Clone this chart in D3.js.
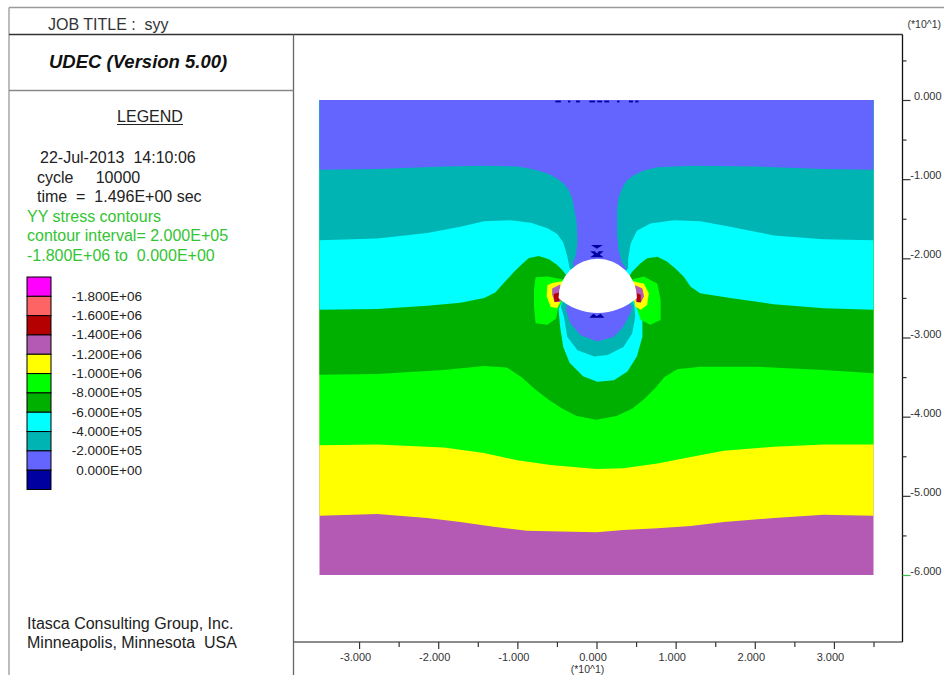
<!DOCTYPE html>
<html>
<head>
<meta charset="utf-8">
<script src="https://d3js.org/d3.v7.min.js"></script>
<style>
  html, body { margin: 0; padding: 0; background: #fff; }
  svg { display: block; font-family: "Liberation Sans", Arial, sans-serif; }
  .pre { white-space: pre; }
</style>
</head>
<body>
<svg id="plot" width="944" height="675"></svg>
<script>
// ---------------- data ----------------
// model extent, metres
const modelX = [-35, 35];
const modelY = [0, -60];

// contour levels (Pa) and legend labels
const contourLevels = [-1.8e6, -1.6e6, -1.4e6, -1.2e6, -1.0e6, -8e5, -6e5, -4e5, -2e5, 0];
const levelLabels = ["-1.800E+06", "-1.600E+06", "-1.400E+06", "-1.200E+06", "-1.000E+06",
                     "-8.000E+05", "-6.000E+05", "-4.000E+05", "-2.000E+05", "0.000E+00"];
// one colour per band: below the first level ... above the last level
const bandColors = ["#ff00ff", "#ff6464", "#b40000", "#b45ab4", "#ffff00", "#00ff00",
                    "#00b000", "#00ffff", "#00b4b4", "#6464ff", "#0000a0"];

// axis ticks (model units, labelled in units of 10 m)
const xTickValues = [-30, -20, -10, 0, 10, 20, 30];
const xTickLabels = ["-3.000", "-2.000", "-1.000", "0.000", "1.000", "2.000", "3.000"];
const xMinorTicks = [-25, -15, -5, 5, 15, 25, 35];
const yTickValues = [0, -10, -20, -30, -40, -50, -60];
const yTickLabels = ["0.000", "-1.000", "-2.000", "-3.000", "-4.000", "-5.000", "-6.000"];
const yMinorTicks = [5, -5, -15, -25, -35, -45, -55];

// excavation: semicircular crown over a shallow curved invert
const tunnelCentre = [0.15, -25.0];
const tunnelRadius = 4.95;
const tunnelInvert = -26.9;

// syy contour lines [x, y] (m); "Lobe" parts wrap under the invert
const contourM12 = [[-35,-52.5],[-27.7,-52.3],[-21.4,-52.8],[-17.2,-53.3],[-13.0,-53.9],[-8.8,-54.4],[-4.5,-54.5],[0,-54.6],[3.4,-54.3],[7.7,-54.1],[11.9,-53.8],[16.1,-53.3],[22.4,-52.8],[28.7,-52.4],[35,-52.5]];
const contourM10 = [[-35,-43.6],[-27.7,-43.5],[-19.3,-43.9],[-14.2,-44.6],[-10.0,-45.5],[-5.8,-46.1],[0,-46.6],[3.4,-46.5],[7.7,-45.9],[11.9,-45.1],[16.1,-44.3],[22.4,-43.8],[28.7,-43.5],[35,-43.5]];
const contourM08 = [[-35,-34.7],[-27.7,-34.6],[-19.3,-34.1],[-14.2,-33.6],[-11.3,-33.8],[-9.5,-35.0],[-7.8,-36.5],[-6.0,-37.9],[-4.3,-39.0],[-2.5,-39.9],[0,-40.4],[2.5,-39.9],[4.5,-39.0],[6.0,-37.8],[7.4,-36.4],[8.6,-35.0],[10.2,-34.0],[13.1,-33.7],[20.3,-33.7],[28.7,-34.1],[35,-34.5]];

const contourM06Left  = [[-35,-26.5],[-27.7,-26.4],[-21.4,-26.0],[-17.2,-25.6],[-14.2,-25.0],[-12.8,-24.3],[-11.6,-23.0],[-10.5,-21.8],[-9.6,-20.9],[-8.6,-20.0],[-7.3,-19.7],[-6.0,-20.1],[-5.0,-20.8],[-4.3,-21.5],[-3.7,-22.3]];
const contourM06Lobe  = [[-4.3,-25.2],[-4.8,-26.4],[-4.6,-28.6],[-4.2,-31.2],[-3.4,-33.2],[-1.7,-34.9],[0.1,-35.6],[2.2,-35.4],[3.9,-34.3],[5.1,-32.4],[5.8,-29.9],[5.8,-27.4],[5.1,-26.3],[4.6,-25.2]];
const contourM06Right = [[4.1,-22.3],[4.5,-21.7],[5.6,-20.6],[6.4,-20.0],[7.7,-19.8],[8.9,-20.4],[10.0,-21.3],[11.0,-22.3],[11.9,-23.6],[13.1,-24.4],[16.9,-25.0],[22.4,-25.8],[28.7,-26.3],[35,-26.5]];

const contourM04Left  = [[-35,-17.7],[-27.7,-17.5],[-21.4,-16.8],[-17.2,-16.0],[-14.2,-15.3],[-10.9,-15.2],[-8.3,-15.5],[-6.2,-16.2],[-5.0,-16.9],[-4.2,-18.0],[-3.7,-19.7],[-3.4,-21.2],[-3.0,-22.0]];
const contourM04Lobe  = [[-4.2,-25.2],[-4.5,-26.1],[-4.1,-27.4],[-3.7,-29.9],[-2.4,-31.6],[-0.3,-32.4],[1.4,-32.2],[3.4,-31.2],[4.5,-29.5],[4.9,-27.4],[4.8,-26.1],[4.5,-25.2]];
const contourM04Right = [[3.5,-22.0],[4.0,-21.2],[4.0,-20.1],[4.3,-18.2],[5.1,-16.5],[6.8,-15.6],[9.8,-15.2],[13.1,-15.3],[16.9,-16.0],[22.4,-17.1],[28.7,-17.6],[35,-17.7]];

const contourM02Left  = [[-35,-8.8],[-27.7,-8.7],[-19.3,-8.4],[-14.2,-8.3],[-10.0,-8.4],[-8.2,-8.7],[-7.1,-9.0],[-5.9,-9.4],[-5.0,-9.9],[-4.1,-10.6],[-3.5,-11.4],[-3.1,-12.3],[-2.9,-13.3],[-2.5,-15.5],[-2.4,-17.9],[-2.6,-19.6],[-3.0,-20.6],[-2.7,-21.8]];
const contourM02Lobe  = [[-3.6,-25.4],[-3.9,-26.5],[-3.3,-28.2],[-2.0,-29.7],[0.1,-30.5],[2.2,-29.9],[3.4,-28.6],[4.3,-26.9],[4.5,-26.1],[3.9,-25.5]];
const contourM02Right = [[3.0,-21.9],[3.8,-21.3],[3.2,-20.5],[2.8,-19.0],[2.6,-17.0],[2.6,-13.7],[2.8,-12.3],[3.2,-11.2],[3.8,-10.2],[4.7,-9.5],[6.0,-8.9],[7.7,-8.5],[11.9,-8.3],[20.3,-8.4],[28.7,-8.7],[35,-8.8]];

// compressive peaks at the sidewalls (regions below a level)
const peakM08Left  = [[-7.7,-22.4],[-6.2,-22.3],[-4.0,-22.7],[-4.2,-23.5],[-4.4,-25.5],[-4.9,-26.4],[-5.1,-27.6],[-6.2,-28.4],[-7.7,-28.2],[-7.9,-26.1],[-7.9,-24.0]];
const peakM10Left  = [[-6.2,-23.4],[-5.6,-23.1],[-4.3,-22.9],[-4.2,-24.5],[-4.6,-25.6],[-5.0,-26.3],[-5.8,-26.1],[-6.3,-24.8]];
const peakM12Left  = [[-5.6,-23.8],[-4.6,-23.3],[-4.3,-25.0],[-4.6,-25.5],[-5.3,-25.5],[-5.6,-24.6]];
const peakM14Left  = [[-5.4,-24.5],[-4.7,-24.3],[-4.7,-25.4],[-5.3,-25.5]];
const peakM08Right = [[4.3,-22.7],[6.0,-22.3],[7.7,-23.2],[8.1,-25.3],[8.1,-27.8],[6.8,-28.4],[5.6,-27.8],[5.2,-26.6],[5.0,-25.6],[4.3,-24.0]];
const peakM10Right = [[4.6,-22.9],[6.0,-23.2],[6.6,-24.4],[6.4,-25.9],[5.6,-26.5],[4.9,-26.1],[4.6,-24.5]];
const peakM12Right = [[4.9,-23.4],[5.8,-23.8],[6.0,-24.8],[5.6,-25.6],[5.0,-25.5],[4.8,-24.5]];
const peakM14Right = [[5.1,-24.4],[5.6,-24.6],[5.6,-25.5],[5.1,-25.5]];

// small tensile zones (above 0)
const tensionCrownA = [[-0.7,-18.3],[0.8,-18.3],[0.05,-18.8]];
const tensionCrownB = [[-0.8,-19.1],[-0.2,-19.1],[0.05,-19.4],[0.3,-19.1],[0.9,-19.1],[0.4,-19.5],[0.9,-19.85],[-0.8,-19.85],[-0.3,-19.5]];
const tensionInvert = [[-0.9,-27.5],[-0.4,-27.0],[0.05,-27.3],[0.5,-27.0],[1.0,-27.5]];
const tensionSurfaceX = [[-5.2,-4.5],[-3.6,-3.3],[-2.6,-2.1],[-0.9,-0.2],[0.1,0.7],[1.0,1.6],[2.6,2.9],[4.1,4.6],[4.9,5.3]];
const tensionSurfaceDepth = [-0.08, -0.3];

// ---------------- drawing ----------------
const svg = d3.select("#plot");
const ink = "#222";

const xScale = d3.scaleLinear().domain(modelX).range([319.5, 873.5]);
const yScale = d3.scaleLinear().domain(modelY).range([100, 575]);
const line = d3.line().x(d => xScale(d[0])).y(d => yScale(d[1]));
const closed = pts => line(pts) + "Z";
const colorAbove = lv => bandColors[contourLevels.indexOf(lv) + 1];
const colorBelow = lv => bandColors[contourLevels.indexOf(lv)];

// point inside the opening, used to route region outlines across it
const viaOpening = [tunnelCentre[0], tunnelCentre[1] + 1];

// region where syy is above a level: contour parts chained across the opening, closed at the surface
function regionAbove(parts) {
  let pts = [];
  parts.forEach((p, i) => { if (i) pts.push(viaOpening); pts = pts.concat(p); });
  pts.push([modelX[1], modelY[0]], [modelX[0], modelY[0]]);
  return pts;
}

const field = svg.append("g");
// deepest band fills the model
field.append("path")
  .attr("d", closed([[modelX[0], modelY[0]], [modelX[1], modelY[0]], [modelX[1], modelY[1]], [modelX[0], modelY[1]]]))
  .attr("fill", colorBelow(-1.2e6));

const bands = [
  { level: -1.2e6, parts: [contourM12] },
  { level: -1.0e6, parts: [contourM10] },
  { level: -8e5,   parts: [contourM08] },
  { level: -6e5,   parts: [contourM06Left, contourM06Lobe, contourM06Right] },
  { level: -4e5,   parts: [contourM04Left, contourM04Lobe, contourM04Right] },
  { level: -2e5,   parts: [contourM02Left, contourM02Lobe, contourM02Right] }
];
field.selectAll("path.band").data(bands).join("path")
  .attr("class", "band")
  .attr("d", d => closed(regionAbove(d.parts)))
  .attr("fill", d => colorAbove(d.level));

// tensile patches
const tension = [tensionCrownA, tensionCrownB, tensionInvert]
  .concat(tensionSurfaceX.map(s => [[s[0], tensionSurfaceDepth[0]], [s[1], tensionSurfaceDepth[0]], [s[1], tensionSurfaceDepth[1]], [s[0], tensionSurfaceDepth[1]]]));
field.selectAll("path.tension").data(tension).join("path")
  .attr("class", "tension").attr("d", closed).attr("fill", colorAbove(0));

// sidewall peaks
const peaks = [
  { level: -8e5, pts: peakM08Left }, { level: -8e5, pts: peakM08Right },
  { level: -1.0e6, pts: peakM10Left }, { level: -1.0e6, pts: peakM10Right },
  { level: -1.2e6, pts: peakM12Left }, { level: -1.2e6, pts: peakM12Right },
  { level: -1.4e6, pts: peakM14Left }, { level: -1.4e6, pts: peakM14Right }
];
field.selectAll("path.peak").data(peaks).join("path")
  .attr("class", "peak").attr("d", d => closed(d.pts)).attr("fill", d => colorBelow(d.level));

// the opening
{
  const [cx, cy] = tunnelCentre;
  const sag = cy - tunnelInvert;
  const invR = (tunnelRadius * tunnelRadius + sag * sag) / (2 * sag);
  const xl = xScale(cx - tunnelRadius), xr = xScale(cx + tunnelRadius), yc = yScale(cy);
  const rx = xScale(tunnelRadius) - xScale(0), ry = yScale(-tunnelRadius) - yScale(0);
  const Rx = xScale(invR) - xScale(0), Ry = yScale(-invR) - yScale(0);
  field.append("path")
    .attr("d", `M${xl},${yc}A${rx},${ry} 0 0 1 ${xr},${yc}A${Rx},${Ry} 0 0 1 ${xl},${yc}Z`)
    .attr("fill", "#fff");
}

// ---------------- frame ----------------
const frame = svg.append("g").attr("fill", "none");
frame.append("line").attr("x1", 9).attr("x2", 944).attr("y1", 7.5).attr("y2", 7.5).attr("stroke", "#9a9a9a").attr("stroke-width", 1.3);
frame.append("line").attr("x1", 9).attr("x2", 9).attr("y1", 7.5).attr("y2", 675).attr("stroke", "#9a9a9a").attr("stroke-width", 1.3);
frame.append("line").attr("x1", 9).attr("x2", 902.5).attr("y1", 34.5).attr("y2", 34.5).attr("stroke", "#333").attr("stroke-width", 1.3);
frame.append("line").attr("x1", 293.5).attr("x2", 293.5).attr("y1", 34.5).attr("y2", 675).attr("stroke", "#666").attr("stroke-width", 1.3);
frame.append("line").attr("x1", 9).attr("x2", 293.5).attr("y1", 90.5).attr("y2", 90.5).attr("stroke", "#888").attr("stroke-width", 1.3);
frame.append("line").attr("x1", 293.5).attr("x2", 902.5).attr("y1", 642).attr("y2", 642).attr("stroke", "#666").attr("stroke-width", 1.3);
frame.append("line").attr("x1", 902.5).attr("x2", 902.5).attr("y1", 34.5).attr("y2", 642).attr("stroke", "#111").attr("stroke-width", 1.3);

// ---------------- axes ----------------
function styleAxis(g) {
  g.select(".domain").remove();
  g.selectAll("line").attr("stroke", "#333").attr("stroke-width", 1.2);
  g.attr("font-family", null).attr("font-size", 11);
  g.selectAll("text").attr("fill", "#333");
}
svg.append("g").attr("transform", "translate(0,642)")
  .call(d3.axisBottom(xScale).tickValues(xMinorTicks).tickSize(5).tickFormat(""))
  .call(styleAxis);
svg.append("g").attr("transform", "translate(0,642)")
  .call(d3.axisBottom(xScale).tickValues(xTickValues).tickSize(7).tickFormat((d, i) => xTickLabels[i]))
  .call(styleAxis)
  .call(g => g.selectAll("text").attr("y", 19).attr("dy", null).attr("dx", -4));
svg.append("text").attr("x", xScale(0) - 9).attr("y", 673).attr("text-anchor", "middle")
  .attr("font-size", 10.5).attr("fill", "#333").text("(*10^1)");

svg.append("g").attr("transform", "translate(902.5,0)")
  .call(d3.axisRight(yScale).tickValues(yMinorTicks).tickSize(4).tickFormat(""))
  .call(styleAxis);
svg.append("g").attr("transform", "translate(902.5,0)")
  .call(d3.axisRight(yScale).tickValues(yTickValues).tickSize(8).tickFormat((d, i) => yTickLabels[i]))
  .call(styleAxis)
  .call(g => g.selectAll("text").attr("x", 39).attr("dy", null).attr("y", -0.5).attr("text-anchor", "end"))
  .call(g => g.selectAll(".tick").filter(d => d === -60).select("line").attr("stroke", "#44bb44"));
svg.append("text").attr("x", 941).attr("y", 28).attr("text-anchor", "end")
  .attr("font-size", 10.5).attr("fill", "#333").text("(*10^1)");

// ---------------- header and legend ----------------
svg.append("text").attr("class", "pre").attr("x", 48).attr("y", 29.5)
  .attr("font-size", 16).attr("fill", "#333").text("JOB TITLE :  syy");
svg.append("text").attr("x", 49).attr("y", 67.5)
  .attr("font-size", 18.5).attr("font-weight", "bold").attr("font-style", "italic").attr("fill", "#111")
  .text("UDEC (Version 5.00)");

svg.append("text").attr("x", 150).attr("y", 121.5).attr("text-anchor", "middle")
  .attr("font-size", 16).attr("fill", ink).text("LEGEND");
svg.append("line").attr("x1", 117).attr("x2", 183).attr("y1", 124.5).attr("y2", 124.5)
  .attr("stroke", ink).attr("stroke-width", 1.2);

const infoLines = [
  { x: 40, y: 163, t: "22-Jul-2013  14:10:06", c: ink },
  { x: 37, y: 183, t: "cycle     10000", c: ink },
  { x: 37, y: 202, t: "time  =  1.496E+00 sec", c: ink },
  { x: 27, y: 222, t: "YY stress contours", c: "#33c433" },
  { x: 27, y: 241, t: "contour interval= 2.000E+05", c: "#33c433" },
  { x: 27, y: 260.5, t: "-1.800E+06 to  0.000E+00", c: "#33c433" }
];
svg.selectAll("text.info").data(infoLines).join("text")
  .attr("class", "info pre").attr("x", d => d.x).attr("y", d => d.y)
  .attr("font-size", 16).attr("fill", d => d.c).text(d => d.t);

// colour key: one box per band, most compressive at the top
const keyY = d3.scaleLinear().domain([0, bandColors.length]).range([277, 489.5]);
svg.selectAll("rect.key").data(bandColors).join("rect")
  .attr("class", "key")
  .attr("x", 27).attr("width", 24)
  .attr("y", (d, i) => keyY(i)).attr("height", keyY(1) - keyY(0))
  .attr("fill", d => d).attr("stroke", "#000").attr("stroke-width", 1);
svg.selectAll("text.keylab").data(levelLabels).join("text")
  .attr("class", "keylab")
  .attr("x", 142).attr("y", (d, i) => keyY(i + 1) + 4.5)
  .attr("text-anchor", "end").attr("font-size", 13.5).attr("fill", ink)
  .text(d => d);

svg.append("text").attr("x", 27).attr("y", 628.5).attr("font-size", 16).attr("fill", ink)
  .text("Itasca Consulting Group, Inc.");
svg.append("text").attr("class", "pre").attr("x", 27).attr("y", 647.5).attr("font-size", 16).attr("fill", ink)
  .text("Minneapolis, Minnesota  USA");
</script>
</body>
</html>
